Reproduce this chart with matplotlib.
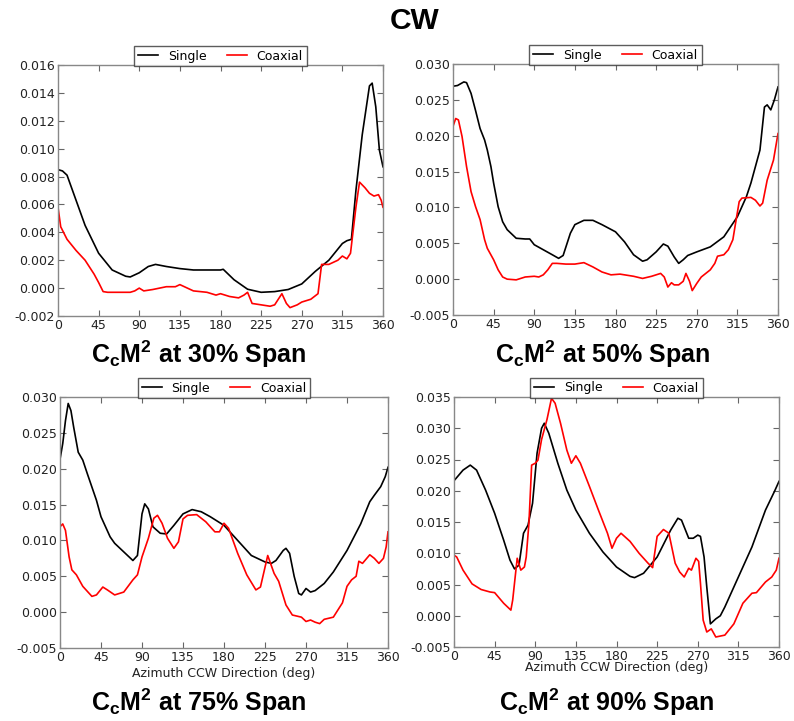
import matplotlib
matplotlib.use("Agg")
import matplotlib.pyplot as plt

# ---------------- data ----------------
xticks = [0, 45, 90, 135, 180, 225, 270, 315, 360]

# 30% span
p30_single_az = [0, 5, 10, 20, 30, 45, 60, 75, 80, 90, 100, 108, 120, 135, 150, 165, 180, 183, 195, 210,
                 225, 240, 255, 270, 285, 300, 315, 320, 325, 330, 337, 345, 348, 352, 356, 360]
p30_single = [0.0085, 0.0084, 0.0081, 0.0063, 0.0045, 0.0025, 0.0013, 0.00085, 0.0008, 0.0011, 0.00155,
              0.0017, 0.00155, 0.0014, 0.0013, 0.0013, 0.0013, 0.00135, 0.0006, -0.00008,
              -0.0003, -0.00025, -0.0001, 0.0003, 0.0012, 0.002, 0.0032, 0.0034, 0.0035, 0.007, 0.011,
              0.0145, 0.0147, 0.013, 0.0099, 0.0087]
p30_coax_az = [0, 3, 10, 20, 30, 40, 45, 50, 55, 70, 80, 85, 90, 95, 105, 120, 130, 135, 140, 150, 165,
               175, 180, 190, 200, 206, 210, 215, 225, 235, 240, 248, 253, 257, 265, 270, 280, 288, 292,
               300, 310, 315, 320, 324, 330, 334, 340, 345, 350, 355, 358, 360]
p30_coax = [0.0058, 0.0044, 0.0035, 0.0027, 0.002, 0.001, 0.0004, -0.00025, -0.0003, -0.0003, -0.0003,
            -0.0002, 0.0, -0.0002, -0.0001, 0.0001, 0.0001, 0.00025, 0.0001, -0.0002, -0.0003,
            -0.0005, -0.0004, -0.0006, -0.0007, -0.0005, -0.0003, -0.0011, -0.0012, -0.0013, -0.0012,
            -0.0004, -0.0011, -0.0014, -0.0012, -0.001, -0.0008, -0.0004, 0.0017,
            0.0017, 0.002, 0.0023, 0.0021, 0.0025, 0.0058, 0.0076, 0.0072, 0.0068, 0.0066, 0.0067,
            0.0063, 0.0058]

# 50% span
p50_single_az = [0, 5, 12, 15, 20, 25, 30, 35, 38, 42, 45, 50, 55, 60, 70, 80, 85, 90, 100, 110, 117,
                 122, 130, 135, 145, 155, 165, 180, 190, 200, 210, 215, 225, 233, 238, 245, 250,
                 255, 260, 270, 285, 300, 315, 325, 330, 340, 345, 348, 352, 356, 360]
p50_single = [0.0269, 0.027, 0.0275, 0.0274, 0.0259, 0.0235, 0.021, 0.0194, 0.018, 0.0157, 0.0134,
              0.0101, 0.008, 0.0069, 0.0057, 0.0056, 0.0056, 0.0048, 0.0041, 0.0034, 0.0029,
              0.0033, 0.0064, 0.0076, 0.0082, 0.0082, 0.0076, 0.0066, 0.0052, 0.0034, 0.0025,
              0.0027, 0.0038, 0.0049, 0.0046, 0.0031, 0.0022, 0.0027, 0.0033, 0.0038, 0.0045,
              0.0059, 0.0087, 0.0115, 0.0134, 0.018, 0.024, 0.0243, 0.0236, 0.025, 0.0268]
p50_coax_az = [0, 3, 6, 10, 15, 20, 25, 30, 35, 38, 45, 50, 55, 60, 70, 80, 90, 95, 100, 105, 110,
               115, 125, 135, 145, 155, 165, 175, 185, 200, 210, 220, 230, 234, 238, 242, 245,
               250, 255, 258, 262, 265, 270, 275, 285, 290, 293, 300, 305, 310, 313, 317, 320,
               330, 335, 340, 343, 348, 355, 360]
p50_coax = [0.0213, 0.0224, 0.0222, 0.0199, 0.0157, 0.0122, 0.0101, 0.0083, 0.0055, 0.0043, 0.0027,
            0.0013, 0.0003, 0.0, -0.0001, 0.0003, 0.0004, 0.0003, 0.0006, 0.0013, 0.0022,
            0.0022, 0.0021, 0.0021, 0.0023, 0.0017, 0.001, 0.0006, 0.0007, 0.0004, 0.0001,
            0.0004, 0.0008, 0.0003, -0.0011, -0.0005, -0.0008, -0.0008, -0.0003, 0.0008,
            -0.0003, -0.0016, -0.0006, 0.0003, 0.0013, 0.0022, 0.0032, 0.0034, 0.0041, 0.0055,
            0.0078, 0.0108, 0.0113, 0.0114, 0.011, 0.0102, 0.0106, 0.0138, 0.0166, 0.0203]

# 75% span
p75_single_az = [0, 3, 6, 9, 12, 15, 20, 25, 30, 40, 45, 55, 60, 70, 80, 85, 90, 93, 97, 102, 110,
                 117, 125, 135, 145, 155, 165, 180, 195, 210, 225, 232, 237, 245, 248, 252, 257,
                 262, 265, 270, 275, 280, 290, 300, 315, 330, 340, 345, 352, 357, 360]
p75_single = [0.0213, 0.0235, 0.0267, 0.0291, 0.0281, 0.0258, 0.0223, 0.0212, 0.0193, 0.0156,
              0.0133, 0.0105, 0.0096, 0.0084, 0.0072, 0.0079, 0.0137, 0.0151, 0.0144, 0.0119,
              0.011, 0.0109, 0.0121, 0.0137, 0.0143, 0.014, 0.0133, 0.0121, 0.01, 0.0079, 0.007,
              0.0068, 0.0072, 0.0086, 0.0089, 0.0082, 0.005, 0.0026, 0.0024, 0.0033, 0.0028,
              0.003, 0.004, 0.0056, 0.0086, 0.0123, 0.0154, 0.0163, 0.0175, 0.0189, 0.0202]
p75_coax_az = [0, 3, 6, 10, 13, 18, 25, 35, 40, 47, 52, 60, 70, 80, 85, 90, 97, 103, 107, 112, 118,
               125, 130, 135, 140, 150, 160, 170, 175, 180, 185, 195, 205, 215, 220, 228, 235,
               240, 248, 255, 265, 270, 275, 280, 285, 290, 300, 310, 315, 320, 325, 328, 332,
               340, 345, 350, 355, 358, 360]
p75_coax = [0.0119, 0.0123, 0.0114, 0.0077, 0.0059, 0.0052, 0.0036, 0.0022, 0.0024, 0.0035, 0.0031,
            0.0024, 0.0028, 0.0045, 0.0052, 0.0077, 0.0103, 0.0131, 0.0135, 0.0124, 0.0103,
            0.0089, 0.0098, 0.013, 0.0135, 0.0136, 0.0126, 0.0112, 0.0112, 0.0124, 0.0117,
            0.0082, 0.0052, 0.0031, 0.0035, 0.0079, 0.0054, 0.0043, 0.001, -0.0004, -0.0007,
            -0.0013, -0.0011, -0.0014, -0.0016, -0.001, -0.0007, 0.0013, 0.0036, 0.0045, 0.005,
            0.0071, 0.0068, 0.008, 0.0075, 0.0068, 0.0075, 0.0091, 0.0112]

# 90% span
p90_single_az = [0, 10, 18, 25, 35, 45, 55, 62, 67, 72, 77, 82, 87, 92, 97, 100, 105, 115, 125, 135,
                 150, 165, 180, 195, 200, 210, 225, 240, 248, 252, 260, 265, 270, 273, 277, 280,
                 284, 290, 295, 300, 315, 330, 345, 355, 360]
p90_single = [0.0216, 0.0233, 0.0241, 0.0233, 0.0201, 0.0164, 0.0121, 0.0089, 0.0075, 0.0081,
              0.0132, 0.0145, 0.018, 0.026, 0.030, 0.0308, 0.0292, 0.0244, 0.0201, 0.0169,
              0.0132, 0.0102, 0.0078, 0.0063, 0.0061, 0.0068, 0.0094, 0.0137, 0.0156, 0.0153,
              0.0124, 0.0124, 0.0129, 0.0127, 0.0094, 0.0046, -0.0013, -0.0005, 0.0, 0.0014,
              0.0062, 0.011, 0.0169, 0.0199, 0.0215]
p90_coax_az = [0, 3, 10, 20, 30, 40, 45, 55, 63, 65, 70, 74, 78, 80, 83, 86, 90, 93, 97, 103, 108,
               112, 118, 125, 130, 135, 140, 150, 160, 170, 175, 180, 185, 195, 205, 215, 220,
               225, 232, 238, 245, 250, 255, 260, 263, 268, 271, 273, 276, 280, 285, 290, 300,
               310, 320, 330, 335, 345, 352, 357, 360]
p90_coax = [0.0097, 0.0094, 0.0073, 0.0051, 0.0042, 0.0038, 0.0037, 0.002, 0.0009, 0.0025, 0.0092,
            0.0073, 0.0078, 0.0094, 0.0148, 0.0241, 0.0244, 0.0249, 0.0282, 0.0314, 0.0348,
            0.034, 0.0308, 0.0265, 0.0244, 0.0256, 0.0244, 0.0207, 0.0169, 0.0132, 0.0108,
            0.0124, 0.0132, 0.0119, 0.01, 0.0084, 0.0077, 0.0127, 0.0138, 0.0132, 0.0084,
            0.007, 0.0062, 0.0076, 0.0073, 0.0092, 0.0087, 0.0052, -0.0007, -0.0026, -0.0021,
            -0.0034, -0.0031, -0.0013, 0.002, 0.0036, 0.0037, 0.0054, 0.0062, 0.0073, 0.0092]

panel_titles = ["30% Span", "50% Span", "75% Span", "90% Span"]
y_ticks = [
    [-0.002, 0.0, 0.002, 0.004, 0.006, 0.008, 0.010, 0.012, 0.014, 0.016],
    [-0.005, 0.0, 0.005, 0.010, 0.015, 0.020, 0.025, 0.030],
    [-0.005, 0.0, 0.005, 0.010, 0.015, 0.020, 0.025, 0.030],
    [-0.005, 0.0, 0.005, 0.010, 0.015, 0.020, 0.025, 0.030, 0.035],
]
series = [
    (p30_single_az, p30_single, p30_coax_az, p30_coax),
    (p50_single_az, p50_single, p50_coax_az, p50_coax),
    (p75_single_az, p75_single, p75_coax_az, p75_coax),
    (p90_single_az, p90_single, p90_coax_az, p90_coax),
]
xlabel_text = "Azimuth CCW Direction (deg)"

# ---------------- layout ----------------
W, H = 794, 721
plt.rcParams['font.family'] = ['DejaVu Sans']
plt.rcParams['mathtext.fontset'] = 'custom'
plt.rcParams['mathtext.bf'] = 'Liberation Sans:bold'
plt.rcParams['mathtext.rm'] = 'Liberation Sans:bold'

fig = plt.figure(figsize=(W / 100, H / 100), dpi=100)

# axes boxes in pixels: (left, top, right, bottom)
boxes = [(58, 65, 383, 316), (453, 64, 778, 315), (60, 397, 388, 648), (454, 397, 779, 647)]
sub_pos = [(198, 354), (602, 354), (198, 702), (606, 702)]
xlabel_y = [None, None, 673, 668]

for i, (l, t, r, b) in enumerate(boxes):
    ax = fig.add_axes([l / W, 1 - b / H, (r - l) / W, (b - t) / H])
    sa, sv, ca, cv = series[i]
    ax.plot(sa, sv, color='black', lw=1.2, label='Single')
    ax.plot(ca, cv, color='#ff0000', lw=1.2, label='Coaxial')
    ax.set_xlim(0, 360)
    ax.set_xticks(xticks)
    yt = y_ticks[i]
    ax.set_ylim(yt[0], yt[-1])
    ax.set_yticks(yt)
    ax.set_yticklabels([f"{v:.3f}" for v in yt])
    ax.tick_params(direction='in', top=True, right=True, length=4, width=0.8,
                   labelsize=9, colors='#222222', pad=2)
    ax.tick_params(axis='both', color='#666666')
    for s in ax.spines.values():
        s.set_color('#888888')
        s.set_linewidth(1.0)
    leg = ax.legend(loc='lower center', bbox_to_anchor=(0.5, 0.995), ncol=2, fontsize=9,
                    frameon=True, fancybox=False, borderaxespad=0, handlelength=1.6,
                    columnspacing=1.6, borderpad=0.3, handletextpad=0.8)
    leg.get_frame().set_edgecolor('#333333')
    leg.get_frame().set_linewidth(1.0)
    if xlabel_y[i] is not None:
        fig.text(((l + r) / 2) / W, 1 - xlabel_y[i] / H, xlabel_text, ha='center', va='center',
                 fontsize=9, color='#222222')
    sx, sy = sub_pos[i]
    fig.text(sx / W, 1 - sy / H, r"$\mathbf{C_cM^2}$ at " + panel_titles[i], ha='center',
             va='center', fontsize=18, fontweight='bold', family=['Liberation Sans', 'DejaVu Sans'])

fig.text(415 / W, 1 - 21 / H, "CW", ha='center', va='center', fontsize=21.5, fontweight='bold',
         family=['Liberation Sans', 'DejaVu Sans'])

fig.savefig("out.png", dpi=100)
